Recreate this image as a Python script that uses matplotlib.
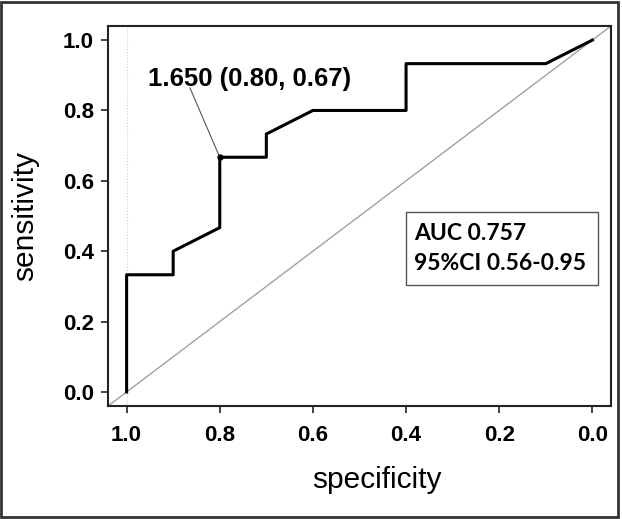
import matplotlib
matplotlib.use("Agg")
import matplotlib.pyplot as plt
from matplotlib.patches import Rectangle

# ROC curve
specificity = [1.0, 1.0, 0.9, 0.9, 0.8, 0.8, 0.7, 0.7, 0.6, 0.4, 0.4, 0.1, 0.0]
sensitivity = [0.0, 0.333, 0.333, 0.4, 0.467, 0.667, 0.667, 0.733, 0.8, 0.8, 0.933, 0.933, 1.0]
ticks = [1.0, 0.8, 0.6, 0.4, 0.2, 0.0]
best_spec, best_sens = 0.8, 0.667
best_label = "1.650 (0.80, 0.67)"
auc_lines = ["AUC 0.757", "95%CI 0.56-0.95"]

plt.rcParams['font.family'] = ['Liberation Sans', 'DejaVu Sans']

fig = plt.figure(figsize=(6.22, 5.19), dpi=100)
ax = fig.add_axes([0.1736, 0.2177, 0.8087, 0.7322])

xlo, xhi = 1.04, -0.04
ax.set_xlim(xlo, xhi)
ax.set_ylim(-0.04, 1.04)

# chance line and the faint guide at specificity 1
ax.plot([xlo, xhi], [1 - xlo, 1 - xhi], color='#a0a0a0', lw=1.0, zorder=1)
ax.axvline(1.0, color='#cccccc', lw=0.8, ls=':', zorder=1)

ax.plot(specificity, sensitivity, color='black', lw=2.2, zorder=3)

# best threshold
ax.plot([best_spec], [best_sens], 'o', color='black', ms=3.5, zorder=4)
ax.plot([best_spec, 0.864], [best_sens, 0.864], color='#555555', lw=0.8, zorder=2)
ax.text(0.737, 0.89, best_label, ha='center', va='center',
        fontsize=18.5, fontweight='bold')

# AUC box
ax.add_patch(Rectangle((0.5925, 0.318), 0.3815, 0.1925, transform=ax.transAxes,
                       fill=False, ec='#555555', lw=1.0, zorder=2))
for txt, yb in zip(auc_lines, [0.437, 0.358]):
    ax.text(0.608, yb, txt, transform=ax.transAxes, ha='left', va='baseline',
            fontsize=16.5, fontweight='bold', family=['Lato', 'DejaVu Sans'])

ax.set_xticks(ticks)
ax.set_yticks(ticks)
ax.set_xticklabels([f"{t:.1f}" for t in ticks], fontsize=16, fontweight='bold')
ax.set_yticklabels([f"{t:.1f}" for t in ticks], fontsize=16, fontweight='bold')
ax.tick_params(axis='both', length=5, width=1.2, color='#222222')
ax.tick_params(axis='x', pad=9)
ax.tick_params(axis='y', pad=5)
for s in ax.spines.values():
    s.set_linewidth(1.5)
    s.set_color('#222222')

ax.set_xlabel('specificity', fontsize=21.5, va='center')
ax.set_ylabel('sensitivity', fontsize=21.5, va='center')
ax.xaxis.set_label_coords(0.535, -0.195)
ax.yaxis.set_label_coords(-0.165, 0.5)

# outer frame around the whole picture
fig.add_artist(Rectangle((0.0024, 0.0039), 0.9912, 0.9931, transform=fig.transFigure,
                         fill=False, ec='#333333', lw=2.0))

fig.savefig('out.png', dpi=100)
